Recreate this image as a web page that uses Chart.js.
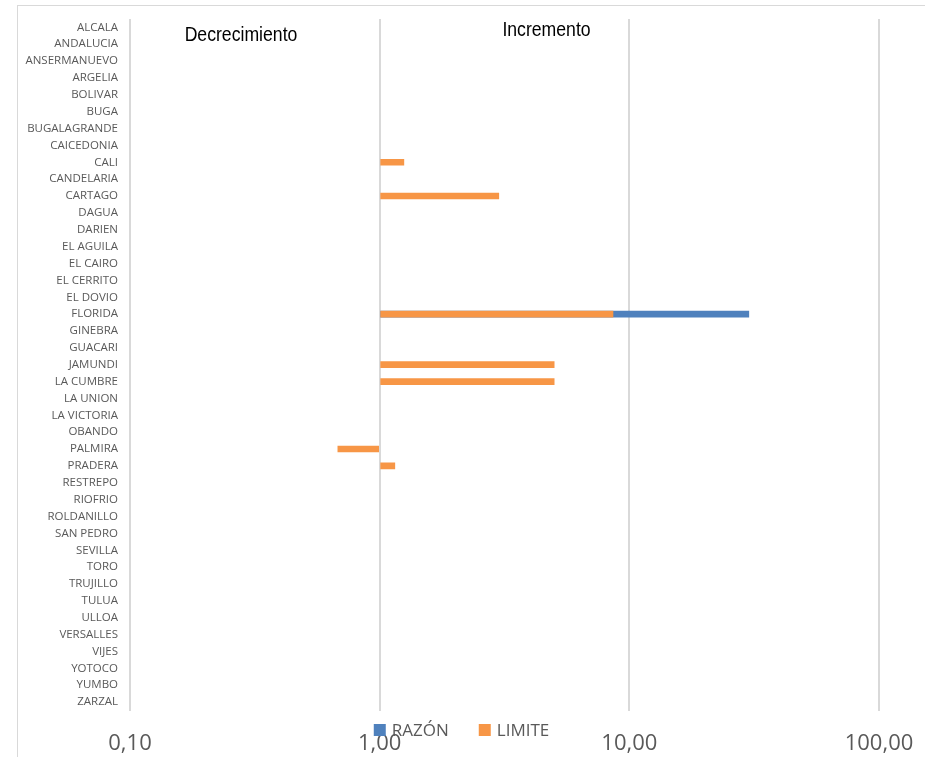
<!DOCTYPE html>
<html><head><meta charset="utf-8">
<script src="https://cdn.jsdelivr.net/npm/chart.js@4.4.0/dist/chart.umd.min.js"></script>
<style>
html,body{margin:0;padding:0;background:#fff;overflow:hidden;}
#wrap{position:relative;width:925px;height:757px;overflow:hidden;}
#frame{position:absolute;left:17px;top:5px;width:1000px;height:1000px;border:1.5px solid #d9d9d9;box-sizing:border-box;}
canvas{position:absolute;left:0;top:0;}
</style></head><body>
<div id="wrap"><div id="frame"></div><canvas id="c" width="925" height="757"></canvas></div>
<script>
const categories = ['ALCALA','ANDALUCIA','ANSERMANUEVO','ARGELIA','BOLIVAR','BUGA','BUGALAGRANDE','CAICEDONIA','CALI','CANDELARIA',
  'CARTAGO','DAGUA','DARIEN','EL AGUILA','EL CAIRO','EL CERRITO','EL DOVIO','FLORIDA','GINEBRA','GUACARI',
  'JAMUNDI','LA CUMBRE','LA UNION','LA VICTORIA','OBANDO','PALMIRA','PRADERA','RESTREPO','RIOFRIO','ROLDANILLO',
  'SAN PEDRO','SEVILLA','TORO','TRUJILLO','TULUA','ULLOA','VERSALLES','VIJES','YOTOCO','YUMBO','ZARZAL'];
const seriesNames = ['RAZÓN','LIMITE'];
const razonValues = [null,null,null,null,null,null,null,null,null,null,
  null,null,null,null,null,null,null,30.1,null,null,
  null,null,null,null,null,null,null,null,null,null,
  null,null,null,null,null,null,null,null,null,null,null];
const limiteValues = [null,null,null,null,null,null,null,null,1.25,null,
  3.0,null,null,null,null,null,null,8.6,null,null,
  5.0,5.0,null,null,null,0.68,1.15,null,null,null,
  null,null,null,null,null,null,null,null,null,null,null];
const tickValues = [0.1, 1, 10, 100];
const tickLabels = ['0,10','1,00','10,00','100,00'];
const annotationTexts = ['Decrecimiento','Incremento'];
const baseValue = 1;

const overlay = {
  id: 'overlay',
  afterDraw(chart) {
    const {ctx, chartArea} = chart;
    ctx.save();
    ctx.fillStyle = '#000';
    ctx.font = "21px 'Liberation Sans', sans-serif";
    ctx.textAlign = 'center';
    ctx.textBaseline = 'alphabetic';
    const sx = 0.84;
    ctx.save();
    ctx.scale(sx, 1);
    ctx.fillText(annotationTexts[0], (chartArea.left + 111) / sx, chartArea.top + 22);
    ctx.fillText(annotationTexts[1], (chartArea.left + 416.5) / sx, chartArea.top + 17.4);
    ctx.restore();
    // legend
    ctx.font = "17px 'Open Sans', sans-serif";
    ctx.textAlign = 'left';
    const box = 12, gapBox = 6, gapItem = 30;
    const items = chart.data.datasets.map(ds => ({text: ds.label, color: ds.backgroundColor, w: ctx.measureText(ds.label).width}));
    let total = items.reduce((s, it) => s + box + gapBox + it.w, 0) + gapItem * (items.length - 1);
    let x = chart.width / 2 - total / 2 - 1;
    const baseline = 736;
    items.forEach(it => {
      ctx.fillStyle = it.color;
      ctx.fillRect(x, baseline - 12, box, box);
      ctx.fillStyle = '#595959';
      ctx.fillText(it.text, x + box + gapBox, baseline);
      x += box + gapBox + it.w + gapItem;
    });
    ctx.restore();
  }
};

new Chart(document.getElementById('c'), {
  type: 'bar',
  data: {
    labels: categories,
    datasets: [
      {label: seriesNames[0], data: razonValues, backgroundColor: '#4F81BD', base: baseValue, barThickness: 6, grouped: false, order: 1},
      {label: seriesNames[1], data: limiteValues, backgroundColor: '#F79646', base: baseValue, barThickness: 6, grouped: false, order: 0}
    ]
  },
  options: {
    indexAxis: 'y',
    responsive: false,
    animation: false,
    layout: {padding: {top: 18.6, right: 46, bottom: 0, left: 0}},
    plugins: {legend: {display: false}, tooltip: {enabled: false}},
    scales: {
      x: {
        type: 'logarithmic',
        position: 'bottom',
        min: 0.1,
        max: 100,
        afterBuildTicks: s => { s.ticks = tickValues.map(v => ({value: v})); },
        afterFit: s => { s.height = 46.5; s.paddingLeft = 0; s.paddingRight = 0; },
        grid: {color: '#d9d9d9', lineWidth: 2, drawTicks: false},
        border: {display: false},
        ticks: {
          callback: (v, i) => tickLabels[i],
          font: {family: "'Open Sans', sans-serif", size: 22},
          color: '#595959',
          padding: 20,
          maxRotation: 0,
          autoSkip: false
        }
      },
      y: {
        afterFit: s => { s.width = 130; },
        grid: {display: false, drawTicks: false},
        border: {display: false},
        ticks: {
          font: {family: "'Open Sans', sans-serif", size: 11.5},
          color: '#595959',
          padding: 12,
          autoSkip: false
        }
      }
    }
  },
  plugins: [overlay]
});
</script>
</body></html>
